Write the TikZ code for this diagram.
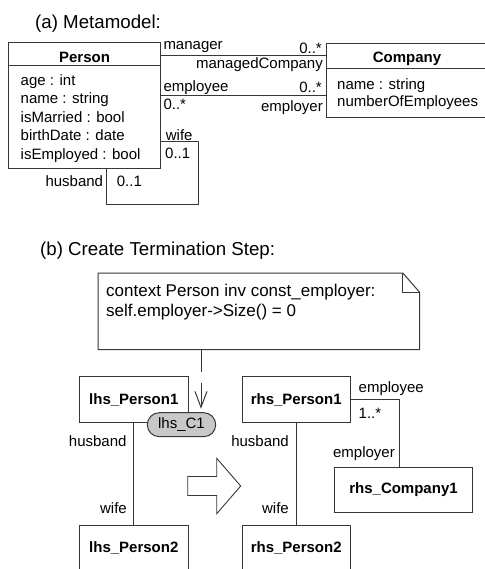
\documentclass[tikz,border=0pt]{standalone}
\usepackage{fontspec}
\setmainfont{Liberation Sans}
\usetikzlibrary{calc,arrows.meta,shapes.misc}
\definecolor{linegray}{RGB}{55,55,55}
\definecolor{pillgray}{RGB}{200,200,200}
\begin{document}
\begin{tikzpicture}[x=1pt,y=-1pt,
  ln/.style={draw=linegray, line width=1pt},
  lbl/.style={inner sep=0pt, font=\fontsize{15}{18}\selectfont, text height=10.7pt, text depth=0pt},
  ttl/.style={inner sep=0pt, font=\fontsize{18.7}{22}\selectfont, text height=13.4pt, text depth=0pt},
  notetxt/.style={inner sep=0pt, font=\fontsize{17}{20}\selectfont, text height=12.2pt, text depth=0pt},
  cls/.style={ln, rectangle, inner sep=0pt},
  obj/.style={ln, rectangle, inner sep=0pt, font=\bfseries\fontsize{15}{18}\selectfont},
  clsname/.style={inner sep=0pt, font=\bfseries\fontsize{15}{18}\selectfont, text height=10.7pt, text depth=0pt},
]
\useasboundingbox (0,0) rectangle (484,569);

% ---------- (a) Metamodel ----------
\node[ttl, anchor=west] (titleA) at (35,21.7) {(a) Metamodel:};

% class Person
\node[cls, minimum width=152.4pt, minimum height=125.6pt] (person) at (84.5,105.5) {};
\draw[ln] ([yshift=-23pt]person.north west) -- ([yshift=-23pt]person.north east);
\node[clsname] (personname) at (84.5,57.3) {Person};
\foreach \t [count=\i] in {age : int, name : string, isMarried : bool, birthDate : date, isEmployed : bool}
  \node[lbl, anchor=west] (pattr\i) at (20.5,{80+(\i-1)*18.5}) {\t};

% class Company
\node[cls, minimum width=162pt, minimum height=74.4pt] (company) at (407,80.5) {};
\draw[ln] ([yshift=-26.2pt]company.north west) -- ([yshift=-26.2pt]company.north east);
\node[clsname] (companyname) at (407,57.3) {Company};
\node[lbl, anchor=west] (cattr1) at (337,84) {name : string};
\node[lbl, anchor=west] (cattr2) at (337,101.5) {numberOfEmployees};

% associations Person -- Company
\coordinate (mgr) at ([yshift=-13pt]person.north east);
\draw[ln] (mgr) -- (mgr -| company.west);
\coordinate (emp) at ([yshift=-53.3pt]person.north east);
\draw[ln] (emp) -- (emp -| company.west);
\node[lbl, anchor=west] (lmanager) at (163.3,44.3) {manager};
\node[lbl, anchor=east] (lmgrmult) at (322,48.3) {0..*};
\node[lbl, anchor=east] (lmanaged) at (323,63.3) {managedCompany};
\node[lbl, anchor=west] (lemployee) at (163.3,85.7) {employee};
\node[lbl, anchor=west] (lempmult) at (163.3,104.3) {0..*};
\node[lbl, anchor=east] (lemrmult) at (322,87.3) {0..*};
\node[lbl, anchor=east] (lemployer) at (323,106) {employer};

% self association husband / wife
\coordinate (wifeend) at ([yshift=-99.6pt]person.north east);
\coordinate (husbend) at ([xshift=98.4pt]person.south west);
\coordinate (loop) at ([shift={(37.6pt,-35.7pt)}]person.south east);
\draw[ln] (wifeend) -| (loop) -| (husbend);
\node[lbl, anchor=west] (lwife) at (165.7,135) {wife};
\node[lbl, anchor=west] (lwifemult) at (165,153.3) {0..1};
\node[lbl, anchor=east] (lhusband) at (103.3,180.7) {husband};
\node[lbl, anchor=west] (lhusbmult) at (116.7,180.7) {0..1};

% ---------- (b) Create Termination Step ----------
\node[ttl, anchor=west] (titleB) at (40,249) {(b) Create Termination Step:};

% OCL note with folded corner
\node[inner sep=0pt, minimum width=321pt, minimum height=76pt] (note) at (258.8,311.3) {};
\draw[ln] (note.north west) -- ([xshift=-16.6pt]note.north east) -- ([yshift=-19pt]note.north east)
  -- (note.south east) -- (note.south west) -- cycle;
\draw[ln] ([xshift=-16.6pt]note.north east) |- ([yshift=-19pt]note.north east);
\node[notetxt, anchor=west] (ocl1) at (106,290.7) {context Person inv const\_employer:};
\node[notetxt, anchor=west] (ocl2) at (106,310) {self.employer->Size() = 0};

% left-hand side
\node[obj, minimum width=109pt, minimum height=45.6pt] (lp1) at (133.8,399.5) {lhs\_Person1};
\node[obj, minimum width=109pt, minimum height=45.6pt] (lp2) at (133.8,547.8) {lhs\_Person2};
\draw[ln] (lp1.south) -- (lp2.north);
\node[lbl, anchor=east] (llhusb) at (126.7,440.7) {husband};
\node[lbl, anchor=east] (llwife) at (127,508) {wife};
\node[rounded rectangle, ln, fill=pillgray, minimum width=68.4pt, minimum height=24pt, inner sep=0pt,
  font=\fontsize{15}{18}\selectfont] (pill) at (181.5,424.7) {lhs\_C1};

% constraint attached to the condition
\coordinate (cnx) at ([xshift=19.5pt]pill.north);
\draw[ln, dash pattern=on 22pt off 11pt, -{Straight Barb[length=16pt,width=12pt]}, shorten >=3.4pt]
  (note.south -| cnx) -- (cnx);

% transformation arrow
\draw[ln, line width=0.9pt] (187.7,476.5) -- (216.7,476.5) -- (216.7,458.3) -- (240.7,486)
  -- (216.7,513.7) -- (216.7,495.5) -- (187.7,495.5) -- cycle;

% right-hand side
\node[obj, minimum width=107.7pt, minimum height=45.6pt] (rp1) at (296.2,399.5) {rhs\_Person1};
\node[obj, minimum width=107.7pt, minimum height=45.6pt] (rp2) at (296.2,547.8) {rhs\_Person2};
\node[obj, minimum width=138.4pt, minimum height=45.4pt] (rc1) at (403.5,490) {rhs\_Company1};
\draw[ln] (rp1.south) -- (rp2.north);
\node[lbl, anchor=east] (rlhusb) at (289,440.7) {husband};
\node[lbl, anchor=east] (rlwife) at (289,508) {wife};
\coordinate (empx) at ([xshift=-4.2pt]rc1.north);
\draw[ln] (rp1.east) -| (empx);
\node[lbl, anchor=west] (rlemployee) at (358.5,386.7) {employee};
\node[lbl, anchor=west] (rlmult) at (358.5,413) {1..*};
\node[lbl, anchor=east] (rlemployer) at (395,451.7) {employer};
\end{tikzpicture}
\end{document}
